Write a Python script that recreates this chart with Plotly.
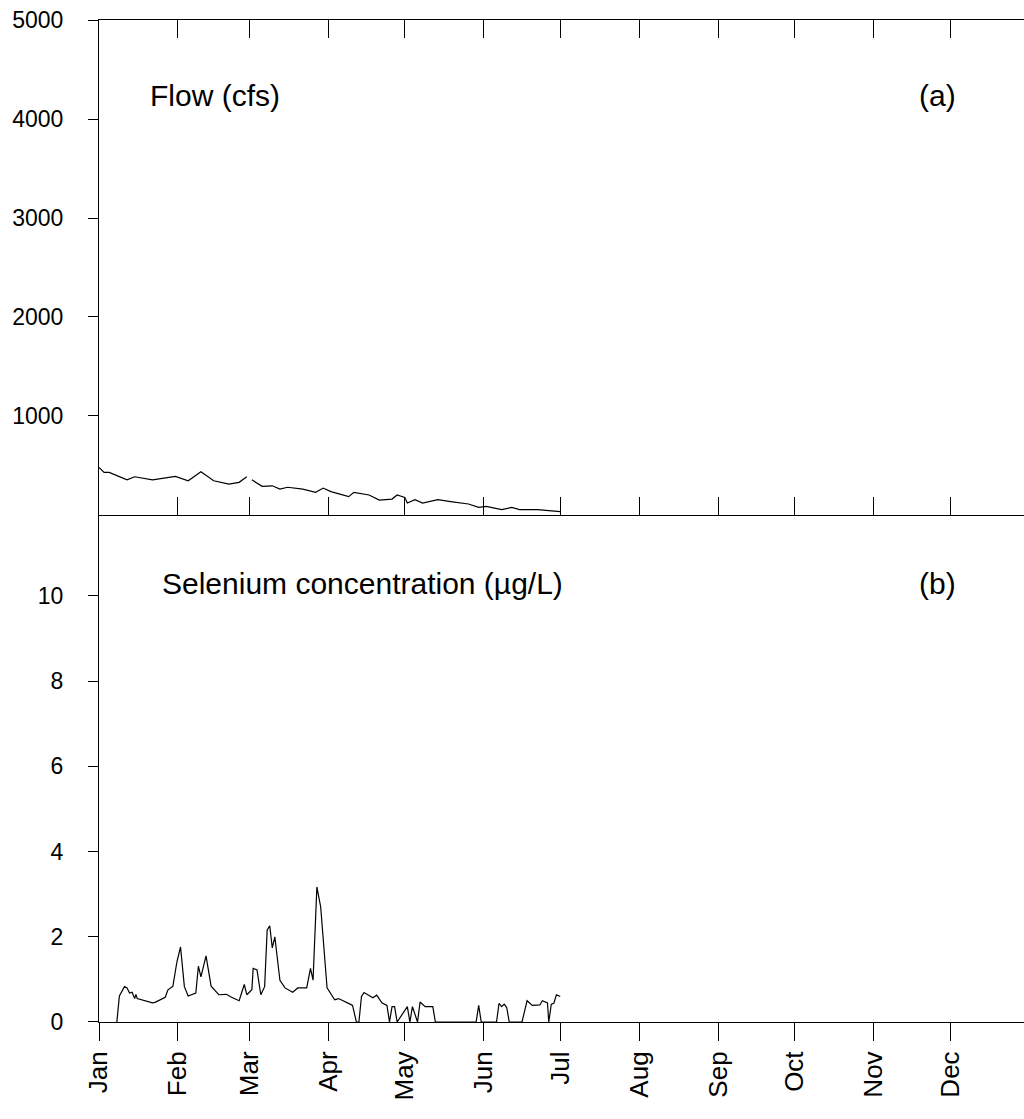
import plotly.graph_objects as go

months = ["Jan","Feb","Mar","Apr","May","Jun","Jul","Aug","Sep","Oct","Nov","Dec"]
month_days = [0,31,59,90,120,151,181,212,243,273,304,334]

flow_days = [0,2,4,11,14,21,30,35,40,45,51,55,58,None,60,64,68,71,74,80,85,88,91,98,100,106,110,115,117,120,121,124,127,133,138,145,149,152,158,162,165,172,181]
flow_vals = [480,430,430,355,386,355,390,346,436,346,312,330,386,None,355,289,295,262,280,262,229,272,236,185,229,202,151,161,202,178,121,155,121,155,135,111,77,87,54,77,54,54,33]

se_days = [7,8,10,11,12,13,14,14.5,15,21,22,26,27,29,30.6,32,33.5,35,38,39,40,42,44,47,50,52,55,57,58,60,60.5,62,63.5,65,66,67,68,69,71,73,76,78,81.5,83,84,85.5,87,89.5,92.5,94,98.5,99.5,101,102,103,104,107.5,109,111,113,114,115,116,117,121,122,123,125,126,128,131,132,148,149,150,156,157,158,159,160,161,166,168,170,173,174,176,176.5,177.5,178.5,179.5,181]
se_vals = [0,0.61,0.83,0.8,0.68,0.7,0.55,0.65,0.55,0.45,0.46,0.58,0.75,0.84,1.42,1.76,0.83,0.61,0.68,1.31,1.06,1.55,0.84,0.64,0.65,0.58,0.5,0.88,0.64,0.76,1.26,1.22,0.64,0.83,2.16,2.26,1.74,2.0,0.98,0.8,0.7,0.8,0.8,1.26,0.98,3.17,2.7,0.8,0.52,0.55,0.42,0.39,0,0,0.6,0.69,0.57,0.63,0.45,0.39,0,0.36,0.36,0,0.36,0,0.36,0,0.47,0.36,0.36,0,0,0.39,0,0,0.44,0.36,0.42,0.34,0,0,0.5,0.39,0.4,0.5,0.45,0,0.42,0.44,0.64,0.6]

fig = go.Figure()
fig.add_trace(go.Scatter(x=flow_days, y=flow_vals, mode="lines", line=dict(color="black", width=1.2),
                         xaxis="x", yaxis="y", connectgaps=False, showlegend=False))
fig.add_trace(go.Scatter(x=se_days, y=se_vals, mode="lines", line=dict(color="black", width=1.2),
                         xaxis="x2", yaxis="y2", showlegend=False))

fam = "Arial, Liberation Sans, sans-serif"
font = dict(family=fam, size=23, color="black")
common_x = dict(range=[0, 363], tickvals=month_days, showline=True, linecolor="black", linewidth=1,
                tickcolor="black", ticklen=18, showgrid=False, zeroline=False, automargin=False)
common_y = dict(ticks="outside", ticklen=10, showline=True, linecolor="black", tickcolor="black",
                showgrid=False, zeroline=False, tickfont=font, automargin=False, ticklabelstandoff=20)
fig.update_layout(
    width=1024, height=1119, plot_bgcolor="white", paper_bgcolor="white",
    margin=dict(l=99, r=0, t=20, b=97), font=font,
    xaxis=dict(common_x, domain=[0,1], anchor="y", ticks="inside", mirror="ticks", showticklabels=False),
    yaxis=dict(common_y, domain=[0.506,1], range=[0,5000], tickvals=[1000,2000,3000,4000,5000]),
    xaxis2=dict(common_x, domain=[0,1], anchor="y2", ticks="outside", ticktext=months, tickangle=-90,
                tickfont=dict(family=fam, size=26, color="black")),
    yaxis2=dict(common_y, domain=[0,0.506], range=[0,11.9], tickvals=[0,2,4,6,8,10]),
    annotations=[
        dict(text="Flow (cfs)", x=0.053, y=0.943, xref="paper", yref="paper", showarrow=False, xanchor="left", font=dict(size=30)),
        dict(text="(a)", x=0.929, y=0.943, xref="paper", yref="paper", showarrow=False, xanchor="right", font=dict(size=30)),
        dict(text="Selenium concentration (µg/L)", x=0.066, y=0.438, xref="paper", yref="paper", showarrow=False, xanchor="left", font=dict(size=30)),
        dict(text="(b)", x=0.929, y=0.438, xref="paper", yref="paper", showarrow=False, xanchor="right", font=dict(size=30)),
    ],
)
fig.write_html("out.html", config={"displayModeBar": False},
               post_script="document.body.style.margin='0';document.body.style.overflow='hidden';")
